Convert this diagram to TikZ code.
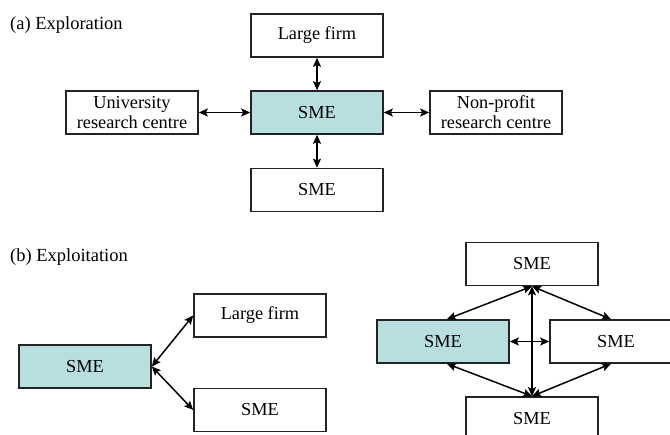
\documentclass[tikz,border=0pt]{standalone}
\usepackage{fontspec}
\setmainfont{Liberation Serif}
\usetikzlibrary{arrows.meta}
\definecolor{teal1}{RGB}{185,222,224}
\definecolor{edge}{RGB}{35,35,35}
\begin{document}
\begin{tikzpicture}[x=1pt,y=-1pt,
  box/.style={draw=edge,line width=1.6pt,rectangle,minimum width=132pt,minimum height=43pt,inner sep=0pt,align=center,font=\fontsize{18.3}{20}\selectfont},
  hl/.style={box,fill=teal1},
  conn/.style={{Stealth[length=9pt,width=8pt,inset=1.8pt]}-{Stealth[length=9pt,width=8pt,inset=1.8pt]},line width=1.5pt,draw=black},
  lab/.style={anchor=base west,inner sep=0pt,font=\fontsize{18.5}{20}\selectfont}]
\useasboundingbox (0,0) rectangle (670,435);
\fill[white] (0,0) rectangle (670,435);
\clip (0,0) rectangle (670,435);
% (a)
\node[lab] (la) at (10,30) {(a) Exploration};
\node[box] (lf) at (317,35.5) {Large firm};
\node[hl] (sme) at (317,112.5) {SME};
\node[box] (uni) at (132,112.5) {University\\research centre};
\node[box] (np) at (496,112.5) {Non-profit\\research centre};
\node[box] (smeb) at (317,190) {SME};
\draw[conn] (lf.south) -- (sme.north);
\draw[conn] (uni.east) -- (sme.west);
\draw[conn] (sme.east) -- (np.west);
\draw[conn] (sme.south) -- (smeb.north);
% (b)
\node[lab] (lb) at (10,262) {(b) Exploitation};
\node[hl] (bsme) at (85,366.5) {SME};
\node[box] (blf) at (260,315.5) {Large firm};
\node[box] (bsme2) at (260,410) {SME};
\draw[conn] (bsme.east) -- (blf.west);
\draw[conn] (bsme.east) -- (bsme2.west);
% right cluster
\node[box] (rt) at (532,264) {SME};
\node[hl] (rl) at (443,341.5) {SME};
\node[box] (rr) at (616,341.5) {SME};
\node[box] (rb) at (532,418.5) {SME};
\draw[conn] (rt.south) -- ([xshift=4pt]rl.north);
\draw[conn] (rt.south) -- ([xshift=-5pt]rr.north);
\draw[conn] (rt.south) -- (rb.north);
\draw[conn] (rl.east) -- (rr.west);
\draw[conn] (rb.north) -- ([xshift=4pt]rl.south);
\draw[conn] (rb.north) -- ([xshift=-5pt]rr.south);
\end{tikzpicture}
\end{document}
